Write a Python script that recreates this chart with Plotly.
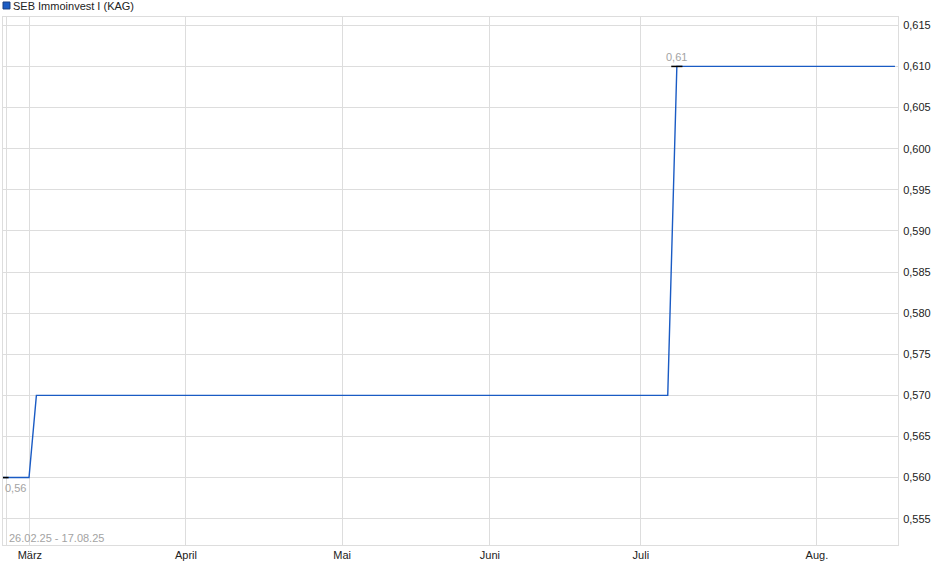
import plotly.graph_objects as go

# data
dates = ["2025-02-26", "2025-03-03", "2025-03-04 10:00", "2025-07-03 18:00",
         "2025-07-05 12:00", "2025-08-16 10:00"]
prices = [0.56, 0.56, 0.57, 0.57, 0.61, 0.61]

month_ticks = ["2025-02-26 18:00", "2025-03-03 04:00", "2025-04-02 04:00",
               "2025-05-02 04:00", "2025-05-30 14:00", "2025-06-28 14:00",
               "2025-08-01 10:00"]
month_labels = ["", "März", "April", "Mai", "Juni", "Juli", "Aug."]

y_ticks = [0.555, 0.56, 0.565, 0.57, 0.575, 0.58, 0.585, 0.59, 0.595,
           0.60, 0.605, 0.61, 0.615]
y_labels = [f"{v:.3f}".replace(".", ",") for v in y_ticks]

series_name = "SEB Immoinvest I (KAG)"
period_text = "26.02.25 - 17.08.25"

line_color = "#1a5bc4"
grid_color = "#dddddd"
label_color = "#a3a3a3"

i_min = prices.index(min(prices))
i_max = prices.index(max(prices))

fig = go.Figure()
fig.add_trace(go.Scatter(
    x=dates, y=prices, mode="lines",
    line=dict(color=line_color, width=1.4),
    hoverinfo="x+y", showlegend=False,
))
# min / max markers
fig.add_trace(go.Scatter(
    x=[dates[i_min], dates[i_max]], y=[prices[i_min], prices[i_max]],
    mode="markers",
    marker=dict(symbol="line-ew-open", size=8, color="black",
                line=dict(color="black", width=1.5)),
    hoverinfo="skip", showlegend=False,
))

fig.add_annotation(x=dates[i_min], y=prices[i_min], text=f"{prices[i_min]:.2f}".replace(".", ","),
                   showarrow=False, xanchor="left", yanchor="top", yshift=-2, xshift=0,
                   font=dict(size=11, color=label_color))
fig.add_annotation(x=dates[i_max], y=prices[i_max], text=f"{prices[i_max]:.2f}".replace(".", ","),
                   showarrow=False, xanchor="center", yanchor="bottom", yshift=1,
                   font=dict(size=11, color=label_color))
fig.add_annotation(xref="paper", yref="paper", x=0.004, y=0.0, text=period_text,
                   showarrow=False, xanchor="left", yanchor="bottom", yshift=-1,
                   font=dict(size=11, color=label_color))

# legend-like title
fig.add_shape(type="rect", xref="paper", yref="paper",
              x0=0.0, x1=0.0078, y0=1.0152, y1=1.0284,
              fillcolor=line_color, line=dict(color="#1a3f80", width=1))
fig.add_annotation(xref="paper", yref="paper", x=0.009, y=1.0208, text=series_name,
                   showarrow=False, xanchor="left", yanchor="middle",
                   font=dict(size=11, color="#222222"))

fig.update_layout(
    width=940, height=579,
    margin=dict(l=3, r=42, t=17, b=34),
    paper_bgcolor="white", plot_bgcolor="white",
    font=dict(family="Liberation Sans, Arial, sans-serif", size=11, color="#222222"),
    xaxis=dict(
        type="date", range=["2025-02-26 00:00", "2025-08-17 00:00"],
        tickvals=month_ticks, ticktext=month_labels,
        showgrid=True, gridcolor=grid_color, gridwidth=1,
        showline=True, linecolor=grid_color, mirror=True,
        ticks="", zeroline=False,
    ),
    yaxis=dict(
        side="right", range=[0.55180, 0.61601],
        tickvals=y_ticks, ticktext=y_labels,
        showgrid=True, gridcolor=grid_color, gridwidth=1,
        showline=True, linecolor=grid_color, mirror=True,
        ticks="outside", ticklen=2, tickcolor="white", zeroline=False,
    ),
)

fig.write_html("out.html", config={"displayModeBar": False},
               post_script="document.body.style.margin='0';")
